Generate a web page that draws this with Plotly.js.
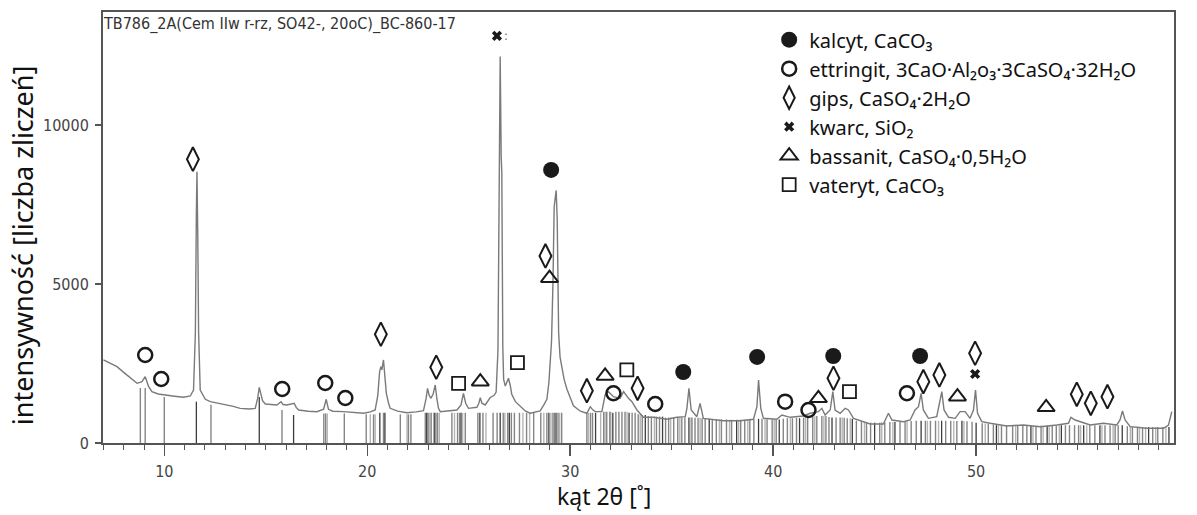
<!DOCTYPE html>
<html>
<head>
<meta charset="utf-8">
<script src="https://cdn.plot.ly/plotly-3.0.1.min.js"></script>
<style>html,body{margin:0;padding:0;background:#fff;}#chart{width:1197px;height:515px;}</style>
</head>
<body>
<div id="chart"></div>
<script>
// ---------------- DATA ----------------
const sampleLabel = "TB786_2A(Cem IIw r-rz, SO42-, 20oC)_BC-860-17";

// measured XRD pattern (2θ, counts)
const pattern2Theta = [7.00,7.30,7.67,8.00,8.33,8.66,8.90,9.06,9.23,9.39,9.70,9.97,10.50,10.95,11.28,11.44,11.53,11.58,11.61,11.65,11.69,11.77,12.02,12.27,12.92,13.40,13.74,14.20,14.48,14.60,14.68,14.75,14.84,14.98,15.55,15.75,15.85,16.04,16.40,16.50,16.62,17.10,17.52,17.85,17.98,18.09,18.30,18.83,19.30,19.82,20.15,20.39,20.52,20.61,20.67,20.72,20.80,20.87,20.94,21.05,21.13,21.50,21.95,22.40,22.77,22.90,22.97,23.05,23.14,23.25,23.35,23.43,23.51,23.60,24.00,24.42,24.62,24.74,24.85,24.99,25.40,25.50,25.57,25.65,25.81,26.06,26.25,26.35,26.44,26.48,26.55,26.60,26.63,26.68,26.72,26.80,26.90,26.96,27.05,27.12,27.30,27.54,27.80,28.03,28.52,28.70,28.85,28.95,29.01,29.08,29.15,29.21,29.26,29.31,29.36,29.40,29.43,29.50,29.60,29.70,29.84,30.00,30.16,30.50,30.82,30.99,31.10,31.23,31.56,31.72,31.89,32.13,32.46,32.63,32.87,33.04,33.29,33.61,34.11,34.76,35.26,35.67,35.75,35.85,35.96,36.24,36.40,36.56,37.55,38.37,39.03,39.20,39.28,39.39,39.52,40.18,40.43,40.84,41.49,41.82,42.23,42.40,42.56,42.81,42.94,43.05,43.30,43.55,43.71,43.96,44.78,45.43,45.60,45.68,45.85,46.42,46.75,46.99,47.16,47.29,47.40,47.65,48.06,48.23,48.31,48.42,48.64,48.97,49.21,49.46,49.70,49.87,49.97,50.07,50.28,50.69,51.51,52.33,53.15,53.98,54.55,54.67,54.88,55.62,56.27,56.93,57.09,57.21,57.34,57.59,58.41,59.23,59.48,59.64];
const patternCounts = [2610,2520,2400,2220,2035,1877,1928,2085,1770,1613,1540,1510,1470,1437,1478,1667,3450,7200,8530,6500,3500,1667,1374,1300,1226,1150,1090,1070,1090,1400,1750,1550,1330,1226,1195,1300,1210,1195,1248,1120,1038,1000,985,1060,1374,1060,1000,985,950,934,980,1038,1500,2243,2400,2300,2610,2000,1563,1250,1090,1000,953,980,1016,1400,1720,1500,1405,1550,1824,1400,1090,985,1000,1038,1200,1563,1250,1090,1122,1250,1425,1250,1195,1430,1500,1600,2900,6200,12150,9000,8500,3000,2000,1790,1950,2035,1800,1530,1300,1140,1000,935,1010,1200,1375,1900,2400,3200,5020,7415,7700,7940,7000,4500,3460,2700,2310,2000,1690,1400,1170,1000,934,1142,1050,985,985,1510,1613,1456,1405,1613,1405,1300,1038,808,808,745,808,827,1090,1720,1038,827,1248,776,700,700,745,1142,1980,1090,776,745,880,808,850,934,985,1090,880,1038,1613,1038,934,1090,1038,776,597,597,808,934,723,670,723,1038,1142,1563,1038,776,827,1300,1613,1038,808,776,985,985,776,1038,1667,934,670,620,535,566,513,566,620,808,723,566,620,566,723,1006,723,513,462,462,566,985];

// reference stick lines (2θ, height) — three shades
const sticksDark2Theta = [11.58,14.68,16.37,20.62,20.87,22.93,23.30,24.62,25.55,26.55,27.00,28.95,29.30,31.25,32.10,32.90,33.70,34.55,35.85,36.85,38.20,39.28,40.30,41.30,42.90,43.90,45.00,46.00,47.29,48.30,49.30,50.00,51.00,52.70,53.50,54.20,55.30,56.10,57.20,58.50,59.50];
const sticksDarkHeight = [1300,1450,880,950,950,950,950,950,950,950,950,950,950,950,950,950,880,830,800,760,730,760,740,780,800,760,640,660,700,700,700,640,560,540,540,560,560,560,560,500,500];

const sticksMid2Theta = [8.82,9.06,10.00,12.30,15.80,17.86,17.95,18.87,19.95,20.31,20.80,21.63,22.03,22.15,22.86,23.00,23.15,23.38,23.46,24.17,24.45,24.55,24.83,25.45,25.70,26.20,26.40,26.70,26.92,27.10,27.25,27.50,27.85,28.20,28.55,28.85,29.15,29.22,29.40,29.58,30.82,31.00,31.10,31.65,31.80,31.95,32.25,32.40,32.55,32.70,33.05,33.20,33.35,33.55,33.85,34.00,34.25,34.40,34.70,34.85,35.10,35.30,35.50,35.65,36.00,36.15,36.30,36.50,36.65,37.00,37.20,37.45,37.70,37.95,38.40,38.60,38.85,39.05,39.45,39.70,39.95,40.15,40.50,40.70,40.95,41.15,41.50,41.70,41.95,42.15,42.40,42.60,42.75,43.10,43.30,43.50,43.65,44.10,44.35,44.60,44.80,45.25,45.50,45.75,46.25,46.50,46.80,47.05,47.50,47.75,48.00,48.50,48.75,49.05,49.55,49.80,50.30,50.60,50.85,51.25,51.50,51.80,52.05,52.30,52.50,52.95,53.20,53.75,53.95,54.40,54.60,54.85,55.05,55.60,55.85,56.35,56.60,56.85,57.00,57.45,57.70,57.95,58.20,58.70,58.95,59.20];
const sticksMidHeight = [1730,1730,1450,1200,1040,930,930,930,900,900,950,900,900,900,950,950,950,950,950,950,950,950,950,950,950,950,950,950,950,950,950,950,950,950,950,950,950,950,950,950,950,950,950,980,980,980,980,980,980,980,950,950,900,880,850,830,830,830,800,800,800,800,800,800,800,790,790,780,760,750,750,740,740,730,730,730,740,750,760,750,740,740,760,780,780,790,800,820,830,850,850,850,820,800,800,790,780,700,680,650,640,640,650,660,670,680,690,700,700,700,700,700,700,690,680,670,620,600,580,560,560,560,550,550,540,540,540,540,550,560,560,560,560,560,560,560,560,560,560,530,520,510,500,500,500,500];

const sticksLight2Theta = [18.03,20.15,20.39,21.96,23.08,23.55,24.30,24.70,25.85,26.78,27.67,28.00,28.70,29.05,29.48,30.90,31.50,31.72,32.00,32.80,33.45,34.15,34.95,35.40,35.95,36.40,37.35,37.85,38.30,38.75,39.60,40.05,40.85,41.60,42.05,42.50,43.40,43.80,44.50,45.35,45.90,46.60,47.60,48.15,48.90,49.40,50.45,51.10,51.95,52.80,53.30,53.60,54.10,55.15,55.45,56.20,56.75,57.60,58.05,58.35,58.85,59.35];
const sticksLightHeight = [930,900,900,900,950,950,950,950,950,950,950,950,950,950,950,950,950,980,980,980,900,830,800,800,800,790,740,730,730,740,750,740,780,810,840,850,800,780,660,650,660,680,700,700,700,690,610,560,550,540,540,540,550,560,560,560,560,520,510,500,500,500];

// phase identification marks (2θ, label height)
const kalcyt2Theta = [29.06,35.57,39.21,42.96,47.24];
const kalcytY      = [8586,2233,2705,2736,2736];
const ettringit2Theta = [9.06,9.85,15.81,17.93,18.92,32.13,34.19,40.59,41.74,46.59];
const ettringitY      = [2768,2013,1698,1887,1415,1563,1226,1300,1038,1563];
const gips2Theta = [11.41,20.67,23.40,28.78,30.82,33.32,42.97,47.40,48.19,49.95,54.96,55.65,56.47];
const gipsY      = [8922,3419,2381,5881,1645,1720,2035,1928,2139,2821,1531,1248,1456];
const kwarc2Theta = [26.39,49.95];
const kwarcY      = [12800,2170];
const bassanit2Theta = [28.98,25.57,31.72,42.23,49.08,53.45];
const bassanitY      = [5180,1928,2107,1406,1456,1122];
const vateryt2Theta = [24.50,27.40,32.79,43.76];
const vaterytY      = [1877,2526,2296,1613];

const legendNames = ["kalcyt, CaCO₃","ettringit, 3CaO·Al₂o₃·3CaSO₄·32H₂O","gips, CaSO₄·2H₂O","kwarc, SiO₂","bassanit, CaSO₄·0,5H₂O","vateryt, CaCO₃"];
const xTitle = "kąt 2θ [˚]";
const yTitle = "intensywność [liczba zliczeń]";

// ---------------- BUILD ----------------
function stickTrace(xs, hs, color, w){
  const x=[], y=[];
  xs.forEach((v,i)=>{ x.push(v,v,null); y.push(0,hs[i],null); });
  return {x, y, type:'scatter', mode:'lines', line:{color, width:w}, hoverinfo:'skip', showlegend:false};
}
const narrow = "Liberation Sans Narrow, Arial Narrow, DejaVu Sans Condensed, sans-serif";
const textFont = "Noto Sans, Open Sans, sans-serif";
const ink = '#1a1a1a';

const traces = [
  stickTrace(sticksLight2Theta, sticksLightHeight, '#b5b5b5', 1.4),
  stickTrace(sticksMid2Theta, sticksMidHeight, '#858585', 1.4),
  stickTrace(sticksDark2Theta, sticksDarkHeight, '#3c3c3c', 1.3),
  {x:pattern2Theta, y:patternCounts, type:'scatter', mode:'lines', line:{color:'#7a7a7a', width:1.4}, showlegend:false, hoverinfo:'skip'},
  {x:kalcyt2Theta, y:kalcytY, type:'scatter', mode:'markers', name:legendNames[0], marker:{symbol:'circle', size:16, color:ink}},
  {x:ettringit2Theta, y:ettringitY, type:'scatter', mode:'markers', name:legendNames[1], marker:{symbol:'circle-open', size:14, color:ink, line:{color:ink, width:2.5}}},
  {x:gips2Theta, y:gipsY, type:'scatter', mode:'markers', name:legendNames[2], marker:{symbol:'diamond-tall-open', size:17, color:ink, line:{color:ink, width:2}}},
  {x:kwarc2Theta, y:kwarcY, type:'scatter', mode:'markers', name:legendNames[3], marker:{symbol:'x', size:9, color:ink, line:{width:0}}},
  {x:bassanit2Theta, y:bassanitY, type:'scatter', mode:'markers', name:legendNames[4], marker:{symbol:'triangle-up-open', size:15, color:ink, line:{color:ink, width:2}}},
  {x:vateryt2Theta, y:vaterytY, type:'scatter', mode:'markers', name:legendNames[5], marker:{symbol:'square-open', size:13, color:ink, line:{color:ink, width:1.8}}}
];

const layout = {
  width:1197, height:515,
  margin:{l:103, r:23, t:12, b:72},
  paper_bgcolor:'#fff', plot_bgcolor:'#fff',
  showlegend:true,
  legend:{x:0.622, y:0.981, xanchor:'left', yanchor:'top', bgcolor:'rgba(0,0,0,0)', font:{family:textFont, size:20, color:'#111'}, traceorder:'normal'},
  xaxis:{range:[6.98,59.75], dtick:10, tick0:0, ticks:'outside', ticklen:11, tickwidth:1.5, tickcolor:'#555',
    minor:{dtick:1, ticks:'outside', ticklen:5, tickcolor:'#555', tickwidth:1},
    showline:true, linecolor:'#555', linewidth:2, mirror:true, showgrid:false, zeroline:false,
    tickfont:{family:narrow, size:16, color:'#444'}, ticklabelstandoff:2},
  yaxis:{range:[0,13550], dtick:5000, tick0:0, tickformat:'d', ticks:'outside', ticklen:6, tickwidth:1.5, tickcolor:'#555',
    showline:true, linecolor:'#555', linewidth:2, mirror:true, showgrid:false, zeroline:false,
    tickfont:{family:narrow, size:16, color:'#444'}, ticklabelstandoff:3},
  annotations:[
    {xref:'paper', yref:'paper', x:0, y:1, xanchor:'left', yanchor:'top', xshift:-2, yshift:0, showarrow:false, text:sampleLabel, font:{family:narrow, size:16, color:'#333'}},
    {x:kwarc2Theta[0], y:kwarcY[0], xshift:9, showarrow:false, text:':', font:{family:narrow, size:13, color:'#666'}},
    {xref:'paper', yref:'paper', x:0.468, y:-0.123, xanchor:'center', yanchor:'middle', showarrow:false, text:xTitle, font:{family:textFont, size:23, color:'#111'}},
    {xref:'paper', yref:'paper', x:-0.0755, y:0.457, xanchor:'center', yanchor:'middle', textangle:-90, showarrow:false, text:yTitle, font:{family:textFont, size:27, color:'#111'}}
  ]
};

Plotly.newPlot('chart', traces, layout, {staticPlot:true, displayModeBar:false});
</script>
</body>
</html>
